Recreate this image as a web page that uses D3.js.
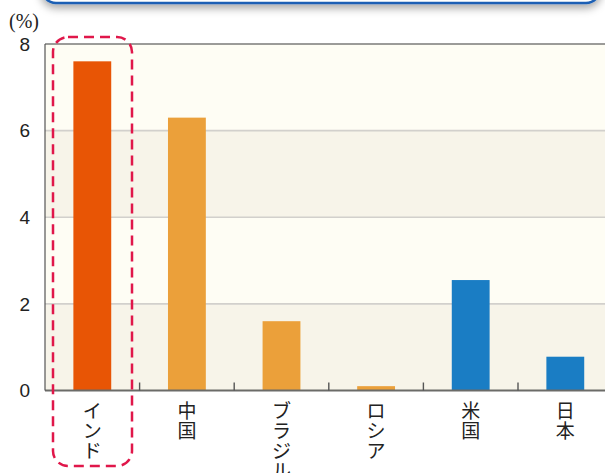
<!DOCTYPE html>
<html>
<head>
<meta charset="utf-8">
<script src="https://cdn.jsdelivr.net/npm/d3@7"></script>
<style>
  html, body { margin: 0; padding: 0; background: #fff; }
  svg { display: block; }
</style>
</head>
<body>
<div id="chart"></div>
<script>
// データ（%）
const categories = ["インド", "中国", "ブラジル", "ロシア", "米国", "日本"];
const values = [7.6, 6.3, 1.6, 0.1, 2.55, 0.78];
const barColors = ["#e85505", "#eba03a", "#eba03a", "#eba03a", "#1a7dc4", "#1a7dc4"];
const yTicks = [0, 2, 4, 6, 8];

const width = 605;
const height = 473;

const svg = d3.select("#chart")
    .append("svg")
    .attr("width", width)
    .attr("height", height);

// 影
const defs = svg.append("defs");
const shadow = defs.append("filter").attr("id", "shadow")
    .attr("x", "-5%").attr("y", "-50%").attr("width", "110%").attr("height", "200%");
shadow.append("feDropShadow")
    .attr("dx", 0).attr("dy", 4).attr("stdDeviation", 4)
    .attr("flood-color", "#000").attr("flood-opacity", 0.35);

// 上の青い枠（見出しボックスの下端）
svg.append("rect")
    .attr("x", 42).attr("y", -40)
    .attr("width", 558).attr("height", 43)
    .attr("rx", 14)
    .attr("fill", "#fff")
    .attr("stroke", "#1a5fb4")
    .attr("stroke-width", 2.5)
    .attr("filter", "url(#shadow)");

// スケール
const x0 = 45;
const step = 94.6;
const x = d3.scaleBand()
    .domain(categories)
    .range([x0, x0 + step * categories.length])
    .paddingInner(0.6)
    .paddingOuter(0.3);

const y = d3.scaleLinear()
    .domain([0, 8])
    .range([390.5, 44]);

// 背景の帯
const bands = [[6, 8, "#fefdf4"], [4, 6, "#f7f4e9"], [2, 4, "#fefdf4"], [0, 2, "#f7f4e9"]];
svg.selectAll("rect.band")
    .data(bands)
    .enter()
    .append("rect")
    .attr("class", "band")
    .attr("x", x0)
    .attr("y", d => y(d[1]))
    .attr("width", width - x0)
    .attr("height", d => y(d[0]) - y(d[1]))
    .attr("fill", d => d[2]);

// グリッド線
svg.selectAll("line.grid")
    .data([2, 4, 6])
    .enter()
    .append("line")
    .attr("x1", x0).attr("x2", width)
    .attr("y1", d => y(d)).attr("y2", d => y(d))
    .attr("stroke", "#d2d0cc")
    .attr("stroke-width", 1.6);

// 棒
svg.selectAll("rect.bar")
    .data(values)
    .enter()
    .append("rect")
    .attr("class", "bar")
    .attr("x", (d, i) => x(categories[i]))
    .attr("y", d => y(d))
    .attr("width", x.bandwidth())
    .attr("height", d => y(0) - y(d))
    .attr("fill", (d, i) => barColors[i]);

// 枠線
svg.append("line")
    .attr("x1", x0).attr("x2", width)
    .attr("y1", y(8)).attr("y2", y(8))
    .attr("stroke", "#7a7a78").attr("stroke-width", 1.5);
svg.append("line")
    .attr("x1", x0).attr("x2", width)
    .attr("y1", y(0)).attr("y2", y(0))
    .attr("stroke", "#6b6b68").attr("stroke-width", 2);
svg.append("line")
    .attr("x1", x0).attr("x2", x0)
    .attr("y1", y(8)).attr("y2", y(0))
    .attr("stroke", "#555").attr("stroke-width", 1.2);

// x軸の目盛り（区切り）
svg.selectAll("line.xtick")
    .data(d3.range(1, categories.length))
    .enter()
    .append("line")
    .attr("x1", k => x0 + x.step() * k)
    .attr("x2", k => x0 + x.step() * k)
    .attr("y1", y(0))
    .attr("y2", y(0) - 8)
    .attr("stroke", "#555")
    .attr("stroke-width", 1.4);

// y軸ラベル
svg.selectAll("text.ylab")
    .data(yTicks)
    .enter()
    .append("text")
    .attr("x", 30)
    .attr("y", d => y(d))
    .attr("dy", "0.36em")
    .attr("text-anchor", "end")
    .attr("font-family", "Liberation Sans, Arial, sans-serif")
    .attr("font-size", 19)
    .attr("fill", "#222")
    .text(d => d);

svg.append("text")
    .attr("x", 9).attr("y", 28)
    .attr("font-family", "Liberation Serif, Times New Roman, serif")
    .attr("font-size", 20)
    .attr("fill", "#222")
    .text("(%)");

// x軸ラベル（縦書き、1文字ずつ）
const labels = svg.selectAll("g.xlab")
    .data(categories)
    .enter()
    .append("g")
    .attr("class", "xlab")
    .attr("transform", d => `translate(${x(d) + x.bandwidth() / 2},0)`);

labels.selectAll("text")
    .data(d => Array.from(d))
    .enter()
    .append("text")
    .attr("x", 0)
    .attr("y", (c, i) => 418 + i * 20)
    .attr("text-anchor", "middle")
    .attr("font-family", "Noto Sans CJK JP, sans-serif")
    .attr("font-size", 19)
    .attr("fill", "#222")
    .text(c => c);

// インドを囲む赤い点線
svg.append("rect")
    .attr("x", 53).attr("y", 37)
    .attr("width", 79).attr("height", 429)
    .attr("rx", 15)
    .attr("fill", "none")
    .attr("stroke", "#e0174a")
    .attr("stroke-width", 2.5)
    .attr("stroke-dasharray", "10,6");
</script>
</body>
</html>
